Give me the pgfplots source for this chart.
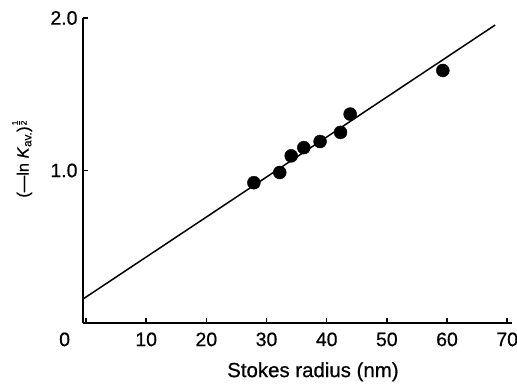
\documentclass[border=0pt]{standalone}
\usepackage{pgfplots}
\pgfplotsset{compat=1.18}
\usepackage{amsmath}
\usepackage{fontspec}
\setmainfont{Liberation Sans}[FakeBold=0.6]
\begin{document}
\begin{tikzpicture}
\path[use as bounding box] (-83bp,-61bp) rectangle (434bp,323bp);
\begin{axis}[
  at={(0,0)}, anchor=south west,
  width=429bp, height=305bp, scale only axis,
  xmin=-0.5, xmax=70.8, ymin=0, ymax=2,
  axis lines*=left,
  axis line style={-, line width=1.6bp},
  tick align=inside,
  major tick length=5.5bp,
  tick style={line width=1.6bp, black},
  xtick={0,10,...,70},
  xticklabels={\makebox[0pt][r]{0\hspace{16bp}},10,20,30,40,50,60,70},
  ytick={1,2},
  yticklabel style={/pgf/number format/fixed, /pgf/number format/fixed zerofill, /pgf/number format/precision=1, xshift=-2bp},
  /pgf/number format/assume math mode=true,
  ticklabel style={font=\fontsize{19.5}{23}\selectfont},
  xticklabel style={yshift=-6bp},
  xlabel={Stokes radius (nm)},
  xlabel style={font=\fontsize{20.5}{24}\selectfont, at={(axis description cs:0.536,-0.16)}, anchor=center},
  ylabel={(—ln \textit{K}\textsubscript{av.})$^{\frac{\text{1}}{\text{2}}}$},
  ylabel style={font=\fontsize{16.5}{20}\selectfont, at={(axis description cs:-0.142,0.54)}, anchor=center},
  clip=false,
]
\addplot[black, line width=1.5bp] coordinates {(-0.5,0.157) (68.0,1.954)};
\addplot[only marks, mark=*, mark size=6.5bp, black] coordinates {
  (27.9,0.92) (32.2,0.987) (34.1,1.096) (36.2,1.15) (38.9,1.19)
  (42.3,1.25) (43.9,1.37) (59.3,1.656)
};
\end{axis}
\end{tikzpicture}
\end{document}
